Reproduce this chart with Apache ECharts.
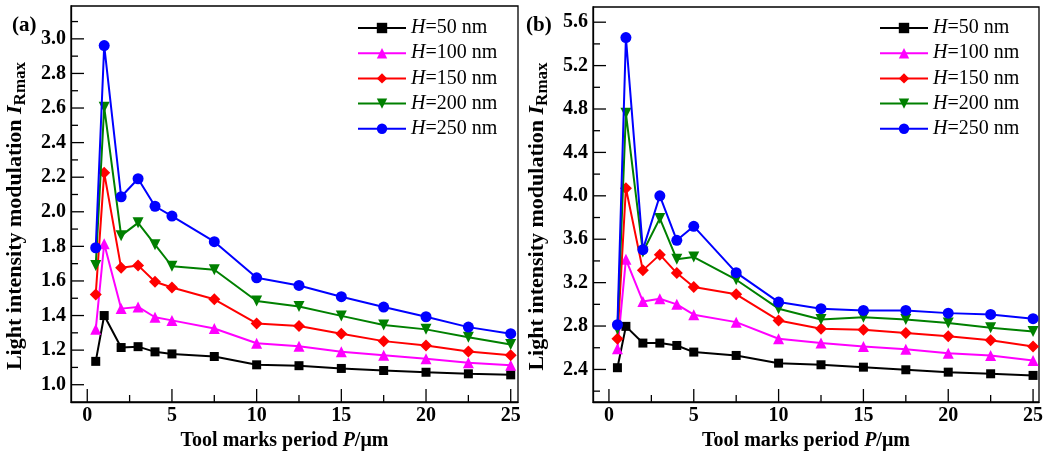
<!DOCTYPE html>
<html>
<head>
<meta charset="utf-8">
<script src="https://cdn.jsdelivr.net/npm/echarts@6/dist/echarts.min.js"></script>
<style>
html,body{margin:0;padding:0;background:#fff;}
#chart{width:1047px;height:457px;}
</style>
</head>
<body>
<div id="chart"></div>
<script>
// ---- data ----
const periods = [0.5, 1, 2, 3, 4, 5, 7.5, 10, 12.5, 15, 17.5, 20, 22.5, 25];
const seriesNames = ['H=50 nm', 'H=100 nm', 'H=150 nm', 'H=200 nm', 'H=250 nm'];
const a_H50  = [1.135, 1.40, 1.215, 1.22, 1.19, 1.178, 1.163, 1.115, 1.11, 1.094, 1.082, 1.072, 1.063, 1.057];
const a_H100 = [1.32, 1.815, 1.44, 1.45, 1.39, 1.372, 1.325, 1.24, 1.223, 1.19, 1.17, 1.15, 1.127, 1.112];
const a_H150 = [1.522, 2.225, 1.676, 1.69, 1.595, 1.562, 1.494, 1.354, 1.339, 1.295, 1.252, 1.227, 1.192, 1.17];
const a_H200 = [1.69, 2.605, 1.862, 1.936, 1.81, 1.685, 1.665, 1.484, 1.452, 1.398, 1.345, 1.32, 1.275, 1.232];
const a_H250 = [1.792, 2.961, 2.087, 2.191, 2.032, 1.975, 1.827, 1.618, 1.574, 1.509, 1.449, 1.393, 1.333, 1.295];
const b_H50  = [2.416, 2.797, 2.643, 2.643, 2.621, 2.56, 2.529, 2.458, 2.443, 2.421, 2.397, 2.375, 2.36, 2.345];
const b_H100 = [2.591, 3.415, 3.027, 3.052, 3.0, 2.905, 2.836, 2.683, 2.643, 2.612, 2.585, 2.55, 2.529, 2.483];
const b_H150 = [2.683, 4.07, 3.313, 3.458, 3.288, 3.159, 3.092, 2.852, 2.775, 2.766, 2.735, 2.707, 2.668, 2.612];
const b_H200 = [2.77, 4.76, 3.482, 3.792, 3.415, 3.436, 3.227, 2.96, 2.861, 2.882, 2.861, 2.827, 2.785, 2.75];
const b_H250 = [2.812, 5.458, 3.504, 4.0, 3.59, 3.719, 3.292, 3.021, 2.96, 2.944, 2.944, 2.919, 2.907, 2.868];
// tick values
const xMajorTicks = [0, 5, 10, 15, 20, 25];
const xMinorTicks = [2.5, 7.5, 12.5, 17.5, 22.5];
const yMajorTicksA = [1.0, 1.2, 1.4, 1.6, 1.8, 2.0, 2.2, 2.4, 2.6, 2.8, 3.0];
const yMinorTicksA = [1.1, 1.3, 1.5, 1.7, 1.9, 2.1, 2.3, 2.5, 2.7, 2.9, 3.1];
const yMajorTicksB = [2.4, 2.8, 3.2, 3.6, 4.0, 4.4, 4.8, 5.2, 5.6];
const yMinorTicksB = [2.2, 2.6, 3.0, 3.4, 3.8, 4.2, 4.6, 5.0, 5.4];
const panelLabels = ['(a)', '(b)'];

// ---- styles / layout ----
const FONT = '"Liberation Serif", "Times New Roman", serif';
const colors = ['#000000', '#FF00FF', '#FF0000', '#008000', '#0000FF'];
const symbols = ['rect', 'triangle', 'diamond', 'triangle', 'circle'];
const symbolRot = [0, 0, 0, 180, 0];
const symbolSizes = [9, 11, 12, 11, 11];
const MAJOR_LEN = 13, MINOR_LEN = 7;
const panels = [
  { grid: { left: 71, top: 6, width: 447, height: 396 }, xr: [-0.96, 25.43], yr: [0.9, 3.19],
    yMaj: yMajorTicksA, yMin: yMinorTicksA, legendLeft: 352, data: [a_H50, a_H100, a_H150, a_H200, a_H250] },
  { grid: { left: 593, top: 7, width: 446, height: 395 }, xr: [-0.94, 25.35], yr: [2.1, 5.74],
    yMaj: yMajorTicksB, yMin: yMinorTicksB, legendLeft: 874, data: [b_H50, b_H100, b_H150, b_H200, b_H250] }
];

const lineStyle = () => ({ color: '#000', width: 1.3 });
const labelStyle = (digits) => ({
  show: true, fontFamily: FONT, fontWeight: 'bold', fontSize: 20, color: '#000',
  formatter: v => digits ? Number(v).toFixed(digits) : String(Number(v))
});
const grids = [], xAxes = [], yAxes = [], series = [], legends = [];

panels.forEach((p) => {
  const g = p.grid;
  const gi = grids.length;
  grids.push({ left: g.left, top: g.top, width: g.width, height: g.height, show: true,
    backgroundColor: 'transparent', borderColor: '#000', borderWidth: 1.3, z: 0 });
  const xi = xAxes.length;
  xAxes.push({
    type: 'value', gridIndex: gi, min: p.xr[0], max: p.xr[1], position: 'bottom',
    name: 'Tool marks period {i|P}/μm', nameLocation: 'middle', nameGap: 29,
    nameTextStyle: {
      fontFamily: FONT, fontWeight: 'bold', fontSize: 20, color: '#000', padding: [0, 20, 0, 0],
      rich: { i: { fontFamily: FONT, fontWeight: 'bold', fontStyle: 'italic', fontSize: 20, color: '#000' } }
    },
    axisLine: { show: true, onZero: false, lineStyle: lineStyle() },
    axisTick: { show: false },
    axisLabel: Object.assign(labelStyle(0), { customValues: xMajorTicks, margin: 4 }),
    splitLine: { show: false }
  });
  const yi = yAxes.length;
  yAxes.push({
    type: 'value', gridIndex: gi, min: p.yr[0], max: p.yr[1], position: 'left',
    name: 'Light intensity modulation {i|I}{s|Rmax}', nameLocation: 'middle', nameGap: 42,
    nameTextStyle: {
      fontFamily: FONT, fontWeight: 'bold', fontSize: 22, color: '#000', padding: [0, 24, 0, 0],
      rich: {
        i: { fontFamily: FONT, fontWeight: 'bold', fontStyle: 'italic', fontSize: 22, color: '#000' },
        s: { fontFamily: FONT, fontWeight: 'bold', fontSize: 17, color: '#000', verticalAlign: 'bottom', padding: [10, 0, 0, 0] }
      }
    },
    axisLine: { show: true, onZero: false, lineStyle: lineStyle() },
    axisTick: { show: false },
    axisLabel: Object.assign(labelStyle(1), { customValues: p.yMaj, margin: 5 }),
    splitLine: { show: false }
  });

  // inward tick marks, positioned through the axes' scales
  const tickData = [
    ...xMajorTicks.map(v => [v, p.yr[0], 0, MAJOR_LEN]),
    ...xMinorTicks.map(v => [v, p.yr[0], 0, MINOR_LEN]),
    ...p.yMaj.map(v => [p.xr[0], v, 1, MAJOR_LEN]),
    ...p.yMin.map(v => [p.xr[0], v, 1, MINOR_LEN])
  ];
  series.push({
    type: 'custom', xAxisIndex: xi, yAxisIndex: yi, silent: true, z: 20, clip: false,
    dimensions: ['x', 'y', 'dir', 'len'],
    data: tickData,
    encode: { x: 0, y: 1 },
    renderItem: (params, api) => {
      const pt = api.coord([api.value(0), api.value(1)]);
      const isY = api.value(2) === 1;
      const len = api.value(3);
      return {
        type: 'line',
        shape: isY ? { x1: pt[0], y1: pt[1], x2: pt[0] + len, y2: pt[1] }
                   : { x1: pt[0], y1: pt[1], x2: pt[0], y2: pt[1] - len },
        style: { stroke: '#000', lineWidth: 1.3, fill: null }
      };
    }
  });

  p.data.forEach((vals, k) => {
    series.push({
      type: 'line',
      name: seriesNames[k],
      xAxisIndex: xi, yAxisIndex: yi,
      data: periods.map((x, j) => [x, vals[j]]),
      symbol: symbols[k], symbolRotate: symbolRot[k], symbolSize: symbolSizes[k],
      showAllSymbol: true,
      itemStyle: { color: colors[k], opacity: 1 },
      lineStyle: { color: colors[k], width: 2 },
      emphasis: { disabled: true },
      z: 2 + k
    });
  });

  legends.push({
    orient: 'vertical', left: p.legendLeft, top: 13,
    data: seriesNames,
    itemWidth: 48, itemHeight: 13, itemGap: 5.2,
    selectedMode: false,
    textStyle: { fontFamily: FONT, fontSize: 20, color: '#000', lineHeight: 20,
      rich: { i: { fontFamily: FONT, fontStyle: 'italic', fontSize: 20, color: '#000', lineHeight: 20 } } },
    formatter: n => n.replace('H', '{i|H}')
  });
});

const chart = echarts.init(document.getElementById('chart'));
chart.setOption({
  animation: false,
  grid: grids,
  xAxis: xAxes,
  yAxis: yAxes,
  legend: legends,
  series: series,
  graphic: [
    { type: 'text', left: 12, top: 15, style: { text: panelLabels[0], font: 'bold 21px ' + FONT, fill: '#000' } },
    { type: 'text', left: 526, top: 15, style: { text: panelLabels[1], font: 'bold 21px ' + FONT, fill: '#000' } }
  ]
});
</script>
</body>
</html>
